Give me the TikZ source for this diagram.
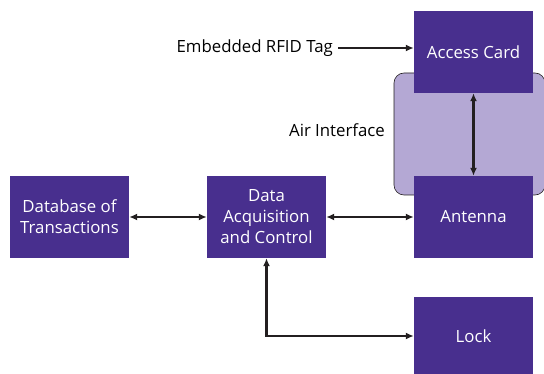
\documentclass[tikz,border=0pt]{standalone}
\usepackage{fontspec}
\setmainfont{Open Sans}
\usetikzlibrary{arrows.meta}
\definecolor{boxpurple}{HTML}{482F8E}
\definecolor{airpurple}{HTML}{B4A8D4}
\definecolor{arrowgray}{HTML}{231F20}
\begin{document}
\begin{tikzpicture}[x=1pt,y=-1pt,
  blk/.style={fill=boxpurple,draw=none,text=white,minimum width=119pt,minimum height=82pt,align=center,inner sep=0pt,font=\fontsize{16.8}{21}\selectfont},
  conn/.style={draw=arrowgray,line width=2.6pt,{Latex[length=8pt,width=7pt]}-{Latex[length=8pt,width=7pt]}},
  oneway/.style={draw=arrowgray,line width=2.6pt,-{Latex[length=8pt,width=7pt]}},
  lbl/.style={text=black,font=\fontsize{16.8}{21}\selectfont,inner sep=0pt}]
\useasboundingbox (0,0) rectangle (544,374);
\draw[fill=airpurple,draw=arrowgray,line width=0.6pt,rounded corners=10pt] (394,73) rectangle (545,195);
\node[blk] (card) at (473.5,52) {Access Card};
\node[blk] (ant) at (473.5,217) {Antenna};
\node[blk] (db) at (69.5,217) {Database of\\Transactions};
\node[blk] (daq) at (266.5,217) {Data\\Acquisition\\and Control};
\node[blk,minimum height=78pt] (lock) at (473.5,336) {Lock};
\node[lbl,anchor=east] (tag) at (333,48) {Embedded RFID Tag};
\node[lbl] (air) at (337,130) {Air Interface};
\coordinate (tagend) at (338,48);
\draw[oneway] (tagend) -- (card.west |- tagend);
\draw[conn] (card.south) -- (ant.north);
\draw[conn] (db.east) -- (daq.west);
\draw[conn] (daq.east) -- (ant.west);
\coordinate (corner) at (daq.south |- lock.west);
\draw[conn] (daq.south) -- (corner) -- (lock.west);
\end{tikzpicture}
\end{document}
